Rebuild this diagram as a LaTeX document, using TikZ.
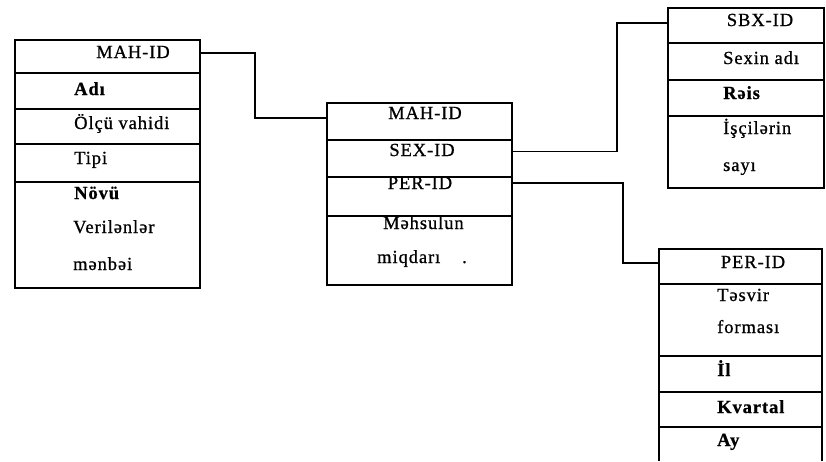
\documentclass[tikz,border=0pt]{standalone}
\usepackage{fontspec}
\setmainfont{Liberation Serif}[LetterSpace=5, FakeBold=0.8]
\begin{document}
\begin{tikzpicture}[x=1pt,y=-1pt,
  cell/.style={draw=black, line width=1.1pt, anchor=north west, inner sep=0pt, outer sep=0pt},
  txt/.style={font=\fontsize{18.5}{21}\selectfont, inner sep=0pt, anchor=base west},
  ctxt/.style={font=\fontsize{18.5}{21}\selectfont, inner sep=0pt, anchor=base},
  link/.style={draw=black, line width=1.1pt}]
\useasboundingbox (0,0) rectangle (826,461);
% left table
\node[cell, minimum width=185pt, minimum height=33pt] (l1) at (15,40) {};
\node[cell, minimum width=185pt, minimum height=36pt] (l2) at (15,73) {};
\node[cell, minimum width=185pt, minimum height=35pt] (l3) at (15,109) {};
\node[cell, minimum width=185pt, minimum height=38pt] (l4) at (15,144) {};
\node[cell, minimum width=185pt, minimum height=106pt] (l5) at (15,182) {};
\node[ctxt] (t1) at (133,58) {MAH-ID};
\node[txt] (t2) at (74,95) {\bfseries Adı};
\node[txt] (t3) at (74,129) {Ölçü vahidi};
\node[txt] (t4) at (74,164) {Tipi};
\node[txt] (t5) at (74,199) {\bfseries Növü};
\node[txt] (t6) at (73,233) {Verilənlər};
\node[txt] (t7) at (73,270) {mənbəi};
% middle table
\node[cell, minimum width=185pt, minimum height=37pt] (m1) at (327,103) {};
\node[cell, minimum width=185pt, minimum height=37pt] (m2) at (327,140) {};
\node[cell, minimum width=185pt, minimum height=39pt] (m3) at (327,177) {};
\node[cell, minimum width=185pt, minimum height=69pt] (m4) at (327,216) {};
\node[ctxt] (u1) at (425,119) {MAH-ID};
\node[ctxt] (u2) at (422,156) {SEX-ID};
\node[ctxt] (u3) at (420,189) {PER-ID};
\node[txt] (u4) at (383,229) {Məhsulun};
\node[txt] (u5) at (377,263) {miqdarı};
\node[txt] (u6) at (462,263) {.};
% top right table
\node[cell, minimum width=156pt, minimum height=35pt] (r1) at (668,8) {};
\node[cell, minimum width=156pt, minimum height=37pt] (r2) at (668,43) {};
\node[cell, minimum width=156pt, minimum height=36pt] (r3) at (668,80) {};
\node[cell, minimum width=156pt, minimum height=72pt] (r4) at (668,116) {};
\node[ctxt] (s1) at (760,26) {SBX-ID};
\node[txt] (s2) at (723,64) {Sexin adı};
\node[txt] (s3) at (723,99) {\bfseries Rəis};
\node[txt] (s4) at (723,134) {İşçilərin};
\node[txt] (s5) at (723,171) {sayı};
% bottom right table
\node[cell, minimum width=163pt, minimum height=35pt] (p1) at (659,249) {};
\node[cell, minimum width=163pt, minimum height=72pt] (p2) at (659,284) {};
\node[cell, minimum width=163pt, minimum height=36pt] (p3) at (659,356) {};
\node[cell, minimum width=163pt, minimum height=35pt] (p4) at (659,392) {};
\coordinate (p5a) at (659,461);
\coordinate (p5b) at (822,461);
\draw[line width=1.1pt] (p4.south west) -- (p5a);
\draw[line width=1.1pt] (p4.south east) -- (p5b);
\node[ctxt] (q1) at (753,268) {PER-ID};
\node[txt] (q2) at (717,301) {Təsvir};
\node[txt] (q3) at (717,333) {forması};
\node[txt] (q4) at (717,376) {\bfseries İl};
\node[txt] (q5) at (717,413) {\bfseries Kvartal};
\node[txt] (q6) at (717,446) {\bfseries Ay};
% connectors
\draw[link] ([yshift=3.5pt]l1.east) -- ++(55,0) |- ([yshift=3.5pt]m1.west);
\draw[link] ([yshift=7pt]m2.east) -- ++(105,0) |- ([yshift=2.5pt]r1.west);
\draw[link] ([yshift=13.5pt]m3.east) -- ++(111,0) |- ([yshift=3.5pt]p1.west);
\end{tikzpicture}
\end{document}
